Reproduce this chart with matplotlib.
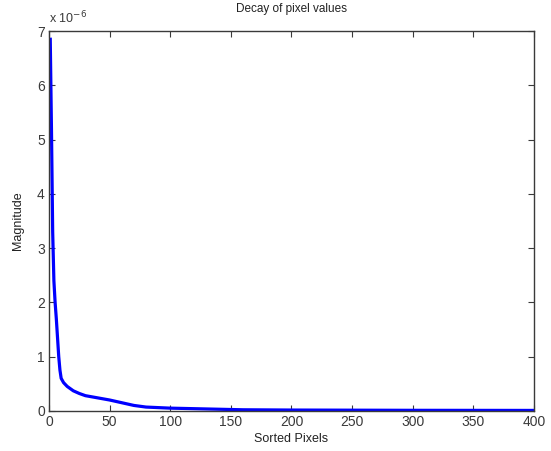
import matplotlib.pyplot as plt
import numpy as np
from matplotlib.ticker import FuncFormatter

plt.rcParams['font.family'] = ['Liberation Sans', 'DejaVu Sans']

# sorted pixel index and magnitude (in units of 1e-6)
pix = [1, 2, 3, 4, 5, 6, 7, 8, 9, 10, 12, 15, 20, 25, 30, 40, 50, 60, 70, 80,
       90, 100, 120, 140, 160, 200, 300, 400]
mag = [6.85, 5.2, 3.3, 2.4, 2.0, 1.7, 1.35, 1.0, 0.75, 0.6, 0.52, 0.45, 0.37,
       0.32, 0.28, 0.24, 0.2, 0.15, 0.1, 0.07, 0.06, 0.05, 0.04, 0.03, 0.02,
       0.015, 0.01, 0.008]

xticks = [0, 50, 100, 150, 200, 250, 300, 350, 400]
yticks = [0, 1, 2, 3, 4, 5, 6, 7]

fig = plt.figure(figsize=(5.51, 4.51), dpi=100)
ax = fig.add_axes([0.089, 0.089, 0.88, 0.842])

ax.plot(pix, np.array(mag) * 1e-6, color='#0000ff', lw=2.3)

ax.set_xlim(0, 400)
ax.set_ylim(0, 7e-6)
ax.set_xticks(xticks)
ax.set_yticks([v * 1e-6 for v in yticks])
ax.yaxis.set_major_formatter(FuncFormatter(lambda v, p: '%g' % round(v * 1e6, 6)))

ax.tick_params(direction='in', top=True, right=True, length=4, labelsize=10,
               colors='#3a3a3a', pad=3)
for s in ax.spines.values():
    s.set_color('#3a3a3a')
    s.set_linewidth(1.0)

ax.set_title('Decay of pixel values', fontsize=8.5, color='#222222', pad=14)
ax.set_xlabel('Sorted Pixels', fontsize=9, color='#222222', labelpad=3)
ax.set_ylabel('Magnitude', fontsize=9, color='#222222', labelpad=9)
ax.text(0.0, 1.012, 'x 10$^{-6}$', transform=ax.transAxes, fontsize=9,
        color='#3a3a3a', ha='left', va='bottom')

fig.savefig('out.png', dpi=100)
